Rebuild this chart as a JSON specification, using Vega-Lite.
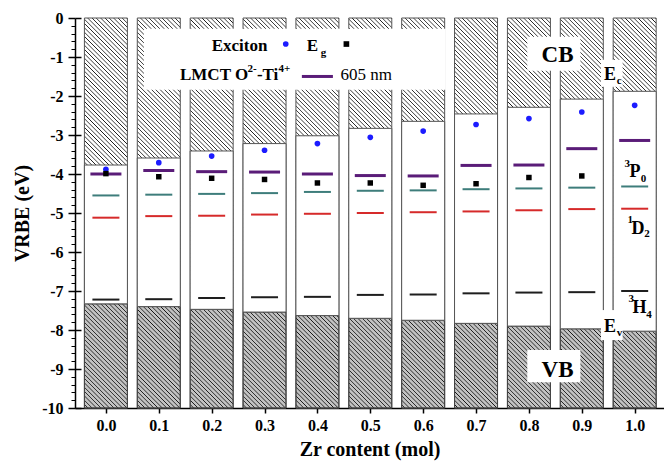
{
  "$schema": "https://vega.github.io/schema/vega-lite/v6.json",
  "width": 589,
  "height": 390,
  "autosize": {"type": "none"},
  "padding": {"left": 75, "top": 18, "right": 0, "bottom": 56},
  "background": "white",
  "config": {
    "view": {"stroke": null},
    "font": "Liberation Serif",
    "axis": {
      "grid": false, "domainColor": "#000", "tickColor": "#000", "labelColor": "#000", "titleColor": "#000",
      "labelFont": "Liberation Serif", "titleFont": "Liberation Serif",
      "labelFontWeight": "bold", "titleFontWeight": "bold", "zindex": 1, "labelFlush": false
    },
    "text": {"font": "Liberation Serif", "color": "#000"}
  },
  "datasets": {
    "levels": [
      {"zr": 0.0, "ec": -3.77, "ev": -7.33, "exciton": -3.88, "eg": -3.99, "lmct": -4.00, "p0": -4.55, "d2": -5.12, "h4": -7.22},
      {"zr": 0.1, "ec": -3.59, "ev": -7.40, "exciton": -3.71, "eg": -4.07, "lmct": -3.91, "p0": -4.53, "d2": -5.08, "h4": -7.21},
      {"zr": 0.2, "ec": -3.41, "ev": -7.47, "exciton": -3.54, "eg": -4.11, "lmct": -3.94, "p0": -4.51, "d2": -5.07, "h4": -7.18},
      {"zr": 0.3, "ec": -3.22, "ev": -7.54, "exciton": -3.39, "eg": -4.14, "lmct": -3.95, "p0": -4.49, "d2": -5.04, "h4": -7.16},
      {"zr": 0.4, "ec": -3.02, "ev": -7.63, "exciton": -3.22, "eg": -4.23, "lmct": -4.00, "p0": -4.46, "d2": -5.02, "h4": -7.15},
      {"zr": 0.5, "ec": -2.83, "ev": -7.70, "exciton": -3.06, "eg": -4.23, "lmct": -4.04, "p0": -4.43, "d2": -5.00, "h4": -7.10},
      {"zr": 0.6, "ec": -2.65, "ev": -7.75, "exciton": -2.90, "eg": -4.29, "lmct": -4.05, "p0": -4.42, "d2": -4.98, "h4": -7.09},
      {"zr": 0.7, "ec": -2.46, "ev": -7.83, "exciton": -2.73, "eg": -4.25, "lmct": -3.78, "p0": -4.39, "d2": -4.96, "h4": -7.06},
      {"zr": 0.8, "ec": -2.29, "ev": -7.90, "exciton": -2.58, "eg": -4.09, "lmct": -3.77, "p0": -4.37, "d2": -4.93, "h4": -7.04},
      {"zr": 0.9, "ec": -2.08, "ev": -7.97, "exciton": -2.41, "eg": -4.05, "lmct": -3.35, "p0": -4.35, "d2": -4.90, "h4": -7.03},
      {"zr": 1.0, "ec": -1.88, "ev": -8.03, "exciton": -2.24, "lmct": -3.14, "p0": -4.32, "d2": -4.89, "h4": -7.00}
    ],
    "boxes": [
      {"x1": 0.0718, "x2": 0.6426, "y1": -0.275, "y2": -1.841},
      {"x1": 0.7969, "x2": 0.8973, "y1": -0.48, "y2": -1.35},
      {"x1": 0.9363, "x2": 0.9772, "y1": -1.071, "y2": -1.764},
      {"x1": 0.9363, "x2": 0.9772, "y1": -7.489, "y2": -8.259},
      {"x1": 0.7969, "x2": 0.8973, "y1": -8.516, "y2": -9.338}
    ],
    "bandLabels": [
      {"t": "CB", "x": 0.8843, "y": -1.122},
      {"t": "VB", "x": 0.8843, "y": -9.209}
    ],
    "stateLabels": [
      {"t": "E", "x": 0.9419, "y": -1.584},
      {"t": "P", "x": 0.9902, "y": -4.074},
      {"t": "D", "x": 0.9939, "y": -5.538},
      {"t": "H", "x": 0.9958, "y": -7.566},
      {"t": "E", "x": 0.9419, "y": -8.054}
    ],
    "scripts": [
      {"t": "c", "x": 0.9661, "y": -1.687},
      {"t": "3", "x": 0.9809, "y": -3.818},
      {"t": "0", "x": 1.0116, "y": -4.203},
      {"t": "1", "x": 0.9865, "y": -5.255},
      {"t": "2", "x": 1.0181, "y": -5.615},
      {"t": "3", "x": 0.9884, "y": -7.284},
      {"t": "4", "x": 1.0218, "y": -7.695},
      {"t": "v", "x": 0.9661, "y": -8.157},
      {"t": "g", "x": 0.4065, "y": -0.986},
      {"t": "2-", "x": 0.2680, "y": -1.379},
      {"t": "4+", "x": 0.3262, "y": -1.379}
    ],
    "legendBold": [
      {"t": "Exciton", "x": 0.2001, "y": -0.84},
      {"t": "E", "x": 0.3799, "y": -0.84},
      {"t": "LMCT O", "x": 0.1401, "y": -1.602},
      {"t": "-Ti", "x": 0.2856, "y": -1.602}
    ],
    "legendPlain": [
      {"t": "605 nm", "x": 0.4437, "y": -1.602}
    ],
    "legendKeys": [
      {"key": "exciton", "x": 0.3401, "y": -0.6675},
      {"key": "eg", "x": 0.4548, "y": -0.6675}
    ],
    "legendLine": [
      {"x1": 0.3706, "x2": 0.4293, "y": -1.499}
    ]
  },
  "layer": [
    {
      "data": {"name": "levels"},
      "mark": {
        "type": "bar", "size": 43, "stroke": "#555", "strokeWidth": 1,
        "fill": {
          "gradient": "linear", "x1": 0, "y1": 1, "x2": 0.121, "y2": -0.097,
          "stops": [
            {"offset":0.00,"color":"#fff"},{"offset":0.006,"color":"#fff"},{"offset":0.008,"color":"#1a1a1a"},
            {"offset":0.01,"color":"#fff"},{"offset":0.016,"color":"#fff"},{"offset":0.018,"color":"#1a1a1a"},
            {"offset":0.02,"color":"#fff"},{"offset":0.026,"color":"#fff"},{"offset":0.028,"color":"#1a1a1a"},
            {"offset":0.03,"color":"#fff"},{"offset":0.036,"color":"#fff"},{"offset":0.038,"color":"#1a1a1a"},
            {"offset":0.04,"color":"#fff"},{"offset":0.046,"color":"#fff"},{"offset":0.048,"color":"#1a1a1a"},
            {"offset":0.05,"color":"#fff"},{"offset":0.056,"color":"#fff"},{"offset":0.058,"color":"#1a1a1a"},
            {"offset":0.06,"color":"#fff"},{"offset":0.066,"color":"#fff"},{"offset":0.068,"color":"#1a1a1a"},
            {"offset":0.07,"color":"#fff"},{"offset":0.076,"color":"#fff"},{"offset":0.078,"color":"#1a1a1a"},
            {"offset":0.08,"color":"#fff"},{"offset":0.086,"color":"#fff"},{"offset":0.088,"color":"#1a1a1a"},
            {"offset":0.09,"color":"#fff"},{"offset":0.096,"color":"#fff"},{"offset":0.098,"color":"#1a1a1a"},
            {"offset":0.10,"color":"#fff"},{"offset":0.106,"color":"#fff"},{"offset":0.108,"color":"#1a1a1a"},
            {"offset":0.11,"color":"#fff"},{"offset":0.116,"color":"#fff"},{"offset":0.118,"color":"#1a1a1a"},
            {"offset":0.12,"color":"#fff"},{"offset":0.126,"color":"#fff"},{"offset":0.128,"color":"#1a1a1a"},
            {"offset":0.13,"color":"#fff"},{"offset":0.136,"color":"#fff"},{"offset":0.138,"color":"#1a1a1a"},
            {"offset":0.14,"color":"#fff"},{"offset":0.146,"color":"#fff"},{"offset":0.148,"color":"#1a1a1a"},
            {"offset":0.15,"color":"#fff"},{"offset":0.156,"color":"#fff"},{"offset":0.158,"color":"#1a1a1a"},
            {"offset":0.16,"color":"#fff"},{"offset":0.166,"color":"#fff"},{"offset":0.168,"color":"#1a1a1a"},
            {"offset":0.17,"color":"#fff"},{"offset":0.176,"color":"#fff"},{"offset":0.178,"color":"#1a1a1a"},
            {"offset":0.18,"color":"#fff"},{"offset":0.186,"color":"#fff"},{"offset":0.188,"color":"#1a1a1a"},
            {"offset":0.19,"color":"#fff"},{"offset":0.196,"color":"#fff"},{"offset":0.198,"color":"#1a1a1a"},
            {"offset":0.20,"color":"#fff"},{"offset":0.206,"color":"#fff"},{"offset":0.208,"color":"#1a1a1a"},
            {"offset":0.21,"color":"#fff"},{"offset":0.216,"color":"#fff"},{"offset":0.218,"color":"#1a1a1a"},
            {"offset":0.22,"color":"#fff"},{"offset":0.226,"color":"#fff"},{"offset":0.228,"color":"#1a1a1a"},
            {"offset":0.23,"color":"#fff"},{"offset":0.236,"color":"#fff"},{"offset":0.238,"color":"#1a1a1a"},
            {"offset":0.24,"color":"#fff"},{"offset":0.246,"color":"#fff"},{"offset":0.248,"color":"#1a1a1a"},
            {"offset":0.25,"color":"#fff"},{"offset":0.256,"color":"#fff"},{"offset":0.258,"color":"#1a1a1a"},
            {"offset":0.26,"color":"#fff"},{"offset":0.266,"color":"#fff"},{"offset":0.268,"color":"#1a1a1a"},
            {"offset":0.27,"color":"#fff"},{"offset":0.276,"color":"#fff"},{"offset":0.278,"color":"#1a1a1a"},
            {"offset":0.28,"color":"#fff"},{"offset":0.286,"color":"#fff"},{"offset":0.288,"color":"#1a1a1a"},
            {"offset":0.29,"color":"#fff"},{"offset":0.296,"color":"#fff"},{"offset":0.298,"color":"#1a1a1a"},
            {"offset":0.30,"color":"#fff"},{"offset":0.306,"color":"#fff"},{"offset":0.308,"color":"#1a1a1a"},
            {"offset":0.31,"color":"#fff"},{"offset":0.316,"color":"#fff"},{"offset":0.318,"color":"#1a1a1a"},
            {"offset":0.32,"color":"#fff"},{"offset":0.326,"color":"#fff"},{"offset":0.328,"color":"#1a1a1a"},
            {"offset":0.33,"color":"#fff"},{"offset":0.336,"color":"#fff"},{"offset":0.338,"color":"#1a1a1a"},
            {"offset":0.34,"color":"#fff"},{"offset":0.346,"color":"#fff"},{"offset":0.348,"color":"#1a1a1a"},
            {"offset":0.35,"color":"#fff"},{"offset":0.356,"color":"#fff"},{"offset":0.358,"color":"#1a1a1a"},
            {"offset":0.36,"color":"#fff"},{"offset":0.366,"color":"#fff"},{"offset":0.368,"color":"#1a1a1a"},
            {"offset":0.37,"color":"#fff"},{"offset":0.376,"color":"#fff"},{"offset":0.378,"color":"#1a1a1a"},
            {"offset":0.38,"color":"#fff"},{"offset":0.386,"color":"#fff"},{"offset":0.388,"color":"#1a1a1a"},
            {"offset":0.39,"color":"#fff"},{"offset":0.396,"color":"#fff"},{"offset":0.398,"color":"#1a1a1a"},
            {"offset":0.40,"color":"#fff"},{"offset":0.406,"color":"#fff"},{"offset":0.408,"color":"#1a1a1a"},
            {"offset":0.41,"color":"#fff"},{"offset":0.416,"color":"#fff"},{"offset":0.418,"color":"#1a1a1a"},
            {"offset":0.42,"color":"#fff"},{"offset":0.426,"color":"#fff"},{"offset":0.428,"color":"#1a1a1a"},
            {"offset":0.43,"color":"#fff"},{"offset":0.436,"color":"#fff"},{"offset":0.438,"color":"#1a1a1a"},
            {"offset":0.44,"color":"#fff"},{"offset":0.446,"color":"#fff"},{"offset":0.448,"color":"#1a1a1a"},
            {"offset":0.45,"color":"#fff"},{"offset":0.456,"color":"#fff"},{"offset":0.458,"color":"#1a1a1a"},
            {"offset":0.46,"color":"#fff"},{"offset":0.466,"color":"#fff"},{"offset":0.468,"color":"#1a1a1a"},
            {"offset":0.47,"color":"#fff"},{"offset":0.476,"color":"#fff"},{"offset":0.478,"color":"#1a1a1a"},
            {"offset":0.48,"color":"#fff"},{"offset":0.486,"color":"#fff"},{"offset":0.488,"color":"#1a1a1a"},
            {"offset":0.49,"color":"#fff"},{"offset":0.496,"color":"#fff"},{"offset":0.498,"color":"#1a1a1a"},
            {"offset":0.50,"color":"#fff"},{"offset":0.506,"color":"#fff"},{"offset":0.508,"color":"#1a1a1a"},
            {"offset":0.51,"color":"#fff"},{"offset":0.516,"color":"#fff"},{"offset":0.518,"color":"#1a1a1a"},
            {"offset":0.52,"color":"#fff"},{"offset":0.526,"color":"#fff"},{"offset":0.528,"color":"#1a1a1a"},
            {"offset":0.53,"color":"#fff"},{"offset":0.536,"color":"#fff"},{"offset":0.538,"color":"#1a1a1a"},
            {"offset":0.54,"color":"#fff"},{"offset":0.546,"color":"#fff"},{"offset":0.548,"color":"#1a1a1a"},
            {"offset":0.55,"color":"#fff"},{"offset":0.556,"color":"#fff"},{"offset":0.558,"color":"#1a1a1a"},
            {"offset":0.56,"color":"#fff"},{"offset":0.566,"color":"#fff"},{"offset":0.568,"color":"#1a1a1a"},
            {"offset":0.57,"color":"#fff"},{"offset":0.576,"color":"#fff"},{"offset":0.578,"color":"#1a1a1a"},
            {"offset":0.58,"color":"#fff"},{"offset":0.586,"color":"#fff"},{"offset":0.588,"color":"#1a1a1a"},
            {"offset":0.59,"color":"#fff"},{"offset":0.596,"color":"#fff"},{"offset":0.598,"color":"#1a1a1a"},
            {"offset":0.60,"color":"#fff"},{"offset":0.606,"color":"#fff"},{"offset":0.608,"color":"#1a1a1a"},
            {"offset":0.61,"color":"#fff"},{"offset":0.616,"color":"#fff"},{"offset":0.618,"color":"#1a1a1a"},
            {"offset":0.62,"color":"#fff"},{"offset":0.626,"color":"#fff"},{"offset":0.628,"color":"#1a1a1a"},
            {"offset":0.63,"color":"#fff"},{"offset":0.636,"color":"#fff"},{"offset":0.638,"color":"#1a1a1a"},
            {"offset":0.64,"color":"#fff"},{"offset":0.646,"color":"#fff"},{"offset":0.648,"color":"#1a1a1a"},
            {"offset":0.65,"color":"#fff"},{"offset":0.656,"color":"#fff"},{"offset":0.658,"color":"#1a1a1a"},
            {"offset":0.66,"color":"#fff"},{"offset":0.666,"color":"#fff"},{"offset":0.668,"color":"#1a1a1a"},
            {"offset":0.67,"color":"#fff"},{"offset":0.676,"color":"#fff"},{"offset":0.678,"color":"#1a1a1a"},
            {"offset":0.68,"color":"#fff"},{"offset":0.686,"color":"#fff"},{"offset":0.688,"color":"#1a1a1a"},
            {"offset":0.69,"color":"#fff"},{"offset":0.696,"color":"#fff"},{"offset":0.698,"color":"#1a1a1a"},
            {"offset":0.70,"color":"#fff"},{"offset":0.706,"color":"#fff"},{"offset":0.708,"color":"#1a1a1a"},
            {"offset":0.71,"color":"#fff"},{"offset":0.716,"color":"#fff"},{"offset":0.718,"color":"#1a1a1a"},
            {"offset":0.72,"color":"#fff"},{"offset":0.726,"color":"#fff"},{"offset":0.728,"color":"#1a1a1a"},
            {"offset":0.73,"color":"#fff"},{"offset":0.736,"color":"#fff"},{"offset":0.738,"color":"#1a1a1a"},
            {"offset":0.74,"color":"#fff"},{"offset":0.746,"color":"#fff"},{"offset":0.748,"color":"#1a1a1a"},
            {"offset":0.75,"color":"#fff"},{"offset":0.756,"color":"#fff"},{"offset":0.758,"color":"#1a1a1a"},
            {"offset":0.76,"color":"#fff"},{"offset":0.766,"color":"#fff"},{"offset":0.768,"color":"#1a1a1a"},
            {"offset":0.77,"color":"#fff"},{"offset":0.776,"color":"#fff"},{"offset":0.778,"color":"#1a1a1a"},
            {"offset":0.78,"color":"#fff"},{"offset":0.786,"color":"#fff"},{"offset":0.788,"color":"#1a1a1a"},
            {"offset":0.79,"color":"#fff"},{"offset":0.796,"color":"#fff"},{"offset":0.798,"color":"#1a1a1a"},
            {"offset":0.80,"color":"#fff"},{"offset":0.806,"color":"#fff"},{"offset":0.808,"color":"#1a1a1a"},
            {"offset":0.81,"color":"#fff"},{"offset":0.816,"color":"#fff"},{"offset":0.818,"color":"#1a1a1a"},
            {"offset":0.82,"color":"#fff"},{"offset":0.826,"color":"#fff"},{"offset":0.828,"color":"#1a1a1a"},
            {"offset":0.83,"color":"#fff"},{"offset":0.836,"color":"#fff"},{"offset":0.838,"color":"#1a1a1a"},
            {"offset":0.84,"color":"#fff"},{"offset":0.846,"color":"#fff"},{"offset":0.848,"color":"#1a1a1a"},
            {"offset":0.85,"color":"#fff"},{"offset":0.856,"color":"#fff"},{"offset":0.858,"color":"#1a1a1a"},
            {"offset":0.86,"color":"#fff"},{"offset":0.866,"color":"#fff"},{"offset":0.868,"color":"#1a1a1a"},
            {"offset":0.87,"color":"#fff"},{"offset":0.876,"color":"#fff"},{"offset":0.878,"color":"#1a1a1a"},
            {"offset":0.88,"color":"#fff"},{"offset":0.886,"color":"#fff"},{"offset":0.888,"color":"#1a1a1a"},
            {"offset":0.89,"color":"#fff"},{"offset":0.896,"color":"#fff"},{"offset":0.898,"color":"#1a1a1a"},
            {"offset":0.90,"color":"#fff"},{"offset":0.906,"color":"#fff"},{"offset":0.908,"color":"#1a1a1a"},
            {"offset":0.91,"color":"#fff"},{"offset":0.916,"color":"#fff"},{"offset":0.918,"color":"#1a1a1a"},
            {"offset":0.92,"color":"#fff"},{"offset":0.926,"color":"#fff"},{"offset":0.928,"color":"#1a1a1a"},
            {"offset":0.93,"color":"#fff"},{"offset":0.936,"color":"#fff"},{"offset":0.938,"color":"#1a1a1a"},
            {"offset":0.94,"color":"#fff"},{"offset":0.946,"color":"#fff"},{"offset":0.948,"color":"#1a1a1a"},
            {"offset":0.95,"color":"#fff"},{"offset":0.956,"color":"#fff"},{"offset":0.958,"color":"#1a1a1a"},
            {"offset":0.96,"color":"#fff"},{"offset":0.966,"color":"#fff"},{"offset":0.968,"color":"#1a1a1a"},
            {"offset":0.97,"color":"#fff"},{"offset":0.976,"color":"#fff"},{"offset":0.978,"color":"#1a1a1a"},
            {"offset":0.98,"color":"#fff"},{"offset":0.986,"color":"#fff"},{"offset":0.988,"color":"#1a1a1a"},
            {"offset":0.99,"color":"#fff"},{"offset":0.996,"color":"#fff"},{"offset":0.998,"color":"#1a1a1a"},
            {"offset":1,"color":"#fff"}
          ]
        }
      },
      "encoding": {
        "x": {
          "field": "zr", "type": "quantitative",
          "scale": {"domain": [-0.049, 1.046], "nice": false, "zero": false},
          "axis": {
            "orient": "bottom",
            "values": [0, 0.1, 0.2, 0.3, 0.4, 0.5, 0.6, 0.7, 0.8, 0.9, 1],
            "format": ".1f", "tickSize": 5, "tickWidth": 1.5, "domainWidth": 1.5,
            "labelFontSize": 16, "labelPadding": 4,
            "title": "Zr content (mol)", "titleFontSize": 20, "titlePadding": 6
          }
        },
        "y": {
          "datum": 0, "type": "quantitative",
          "scale": {"domain": [-10, 0], "nice": false, "zero": false},
          "axis": {
            "orient": "left",
            "values": [-10, -9, -8, -7, -6, -5, -4, -3, -2, -1, 0],
            "labelExpr": "'' + datum.value",
            "tickSize": 7, "tickWidth": 1.5, "domainWidth": 1.5,
            "labelFontSize": 16, "labelPadding": 5,
            "title": "VRBE (eV)", "titleFontSize": 20, "titlePadding": 9
          }
        },
        "y2": {"datum": -10}
      }
    },
    {
      "data": {"name": "levels"},
      "mark": {"type": "bar", "size": 43, "fill": "#000", "fillOpacity": 0.24, "stroke": "#444", "strokeWidth": 1},
      "encoding": {
        "x": {"field": "zr", "type": "quantitative", "axis": null},
        "y": {"field": "ev", "type": "quantitative", "axis": null},
        "y2": {"datum": -10}
      }
    },
    {
      "data": {"name": "levels"},
      "mark": {"type": "bar", "size": 43, "fill": "#fff", "stroke": "#555", "strokeWidth": 1},
      "encoding": {
        "x": {"field": "zr", "type": "quantitative", "axis": null},
        "y": {"field": "ec", "type": "quantitative", "axis": null},
        "y2": {"field": "ev"}
      }
    },
    {
      "data": {"name": "levels"},
      "mark": {"type": "tick", "orient": "horizontal", "size": 27, "thickness": 2, "color": "#1e1e1e", "opacity": 1},
      "encoding": {
        "x": {"field": "zr", "type": "quantitative", "axis": null},
        "y": {"field": "h4", "type": "quantitative", "axis": null}
      }
    },
    {
      "data": {"name": "levels"},
      "mark": {"type": "tick", "orient": "horizontal", "size": 27, "thickness": 2, "color": "#d62a2a", "opacity": 1},
      "encoding": {
        "x": {"field": "zr", "type": "quantitative", "axis": null},
        "y": {
          "field": "d2", "type": "quantitative",
          "axis": {
            "orient": "left", "values": [-10, -9, -8, -7, -6, -5, -4, -3, -2, -1, 0],
            "tickSize": -6, "tickWidth": 1.5, "labels": false, "domain": false, "title": null
          }
        }
      }
    },
    {
      "data": {"name": "levels"},
      "mark": {"type": "tick", "orient": "horizontal", "size": 27, "thickness": 2, "color": "#3e7d7b", "opacity": 1},
      "encoding": {
        "x": {"field": "zr", "type": "quantitative", "axis": null},
        "y": {
          "field": "p0", "type": "quantitative",
          "axis": {
            "orient": "left",
            "values": [-9.8, -9.6, -9.4, -9.2, -8.8, -8.6, -8.4, -8.2, -7.8, -7.6, -7.4, -7.2, -6.8, -6.6, -6.4, -6.2, -5.8, -5.6, -5.4, -5.2, -4.8, -4.6, -4.4, -4.2, -3.8, -3.6, -3.4, -3.2, -2.8, -2.6, -2.4, -2.2, -1.8, -1.6, -1.4, -1.2, -0.8, -0.6, -0.4, -0.2],
            "tickSize": 4, "tickWidth": 1, "labels": false, "domain": false, "title": null
          }
        }
      }
    },
    {
      "data": {"name": "levels"},
      "mark": {"type": "tick", "orient": "horizontal", "size": 31, "thickness": 3, "color": "#5a1c78", "opacity": 1},
      "encoding": {
        "x": {"field": "zr", "type": "quantitative", "axis": null},
        "y": {"field": "lmct", "type": "quantitative", "axis": null}
      }
    },
    {
      "data": {"name": "levels"},
      "mark": {"type": "point", "shape": "circle", "filled": true, "size": 32, "color": "#1c1cff", "opacity": 1},
      "encoding": {
        "x": {"field": "zr", "type": "quantitative", "axis": null},
        "y": {"field": "exciton", "type": "quantitative", "axis": null}
      }
    },
    {
      "data": {"name": "levels"},
      "mark": {"type": "point", "shape": "square", "filled": true, "size": 30, "color": "#000", "opacity": 1},
      "encoding": {
        "x": {"field": "zr", "type": "quantitative", "axis": null},
        "y": {"field": "eg", "type": "quantitative", "axis": null}
      }
    },
    {
      "data": {"name": "boxes"},
      "mark": {"type": "rect", "fill": "#fff", "strokeWidth": 0},
      "encoding": {
        "x": {"field": "x1", "type": "quantitative", "axis": null},
        "x2": {"field": "x2"},
        "y": {"field": "y1", "type": "quantitative", "axis": null},
        "y2": {"field": "y2"}
      }
    },
    {
      "data": {"name": "bandLabels"},
      "mark": {"type": "text", "align": "right", "baseline": "alphabetic", "fontSize": 23, "fontWeight": "bold"},
      "encoding": {
        "x": {"field": "x", "type": "quantitative", "axis": null},
        "y": {"field": "y", "type": "quantitative", "axis": null},
        "text": {"field": "t"}
      }
    },
    {
      "data": {"name": "stateLabels"},
      "mark": {"type": "text", "align": "left", "baseline": "alphabetic", "fontSize": 18, "fontWeight": "bold"},
      "encoding": {
        "x": {"field": "x", "type": "quantitative", "axis": null},
        "y": {"field": "y", "type": "quantitative", "axis": null},
        "text": {"field": "t"}
      }
    },
    {
      "data": {"name": "scripts"},
      "mark": {"type": "text", "align": "left", "baseline": "alphabetic", "fontSize": 11, "fontWeight": "bold"},
      "encoding": {
        "x": {"field": "x", "type": "quantitative", "axis": null},
        "y": {"field": "y", "type": "quantitative", "axis": null},
        "text": {"field": "t"}
      }
    },
    {
      "data": {"name": "legendBold"},
      "mark": {"type": "text", "align": "left", "baseline": "alphabetic", "fontSize": 17, "fontWeight": "bold"},
      "encoding": {
        "x": {"field": "x", "type": "quantitative", "axis": null},
        "y": {"field": "y", "type": "quantitative", "axis": null},
        "text": {"field": "t"}
      }
    },
    {
      "data": {"name": "legendPlain"},
      "mark": {"type": "text", "align": "left", "baseline": "alphabetic", "fontSize": 17, "fontWeight": "normal"},
      "encoding": {
        "x": {"field": "x", "type": "quantitative", "axis": null},
        "y": {"field": "y", "type": "quantitative", "axis": null},
        "text": {"field": "t"}
      }
    },
    {
      "data": {"name": "legendLine"},
      "mark": {"type": "rule", "strokeWidth": 3, "color": "#5a1c78"},
      "encoding": {
        "x": {"field": "x1", "type": "quantitative", "axis": null},
        "x2": {"field": "x2"},
        "y": {"field": "y", "type": "quantitative", "axis": null}
      }
    },
    {
      "data": {"name": "legendKeys"},
      "mark": {"type": "point", "filled": true, "size": 32, "opacity": 1},
      "encoding": {
        "x": {"field": "x", "type": "quantitative", "axis": null},
        "y": {"field": "y", "type": "quantitative", "axis": null},
        "shape": {"field": "key", "type": "nominal", "scale": {"domain": ["exciton", "eg"], "range": ["circle", "square"]}, "legend": null},
        "color": {"field": "key", "type": "nominal", "scale": {"domain": ["exciton", "eg"], "range": ["#1c1cff", "#000000"]}, "legend": null}
      }
    }
  ],
  "resolve": {"axis": {"x": "independent", "y": "independent"}}
}
